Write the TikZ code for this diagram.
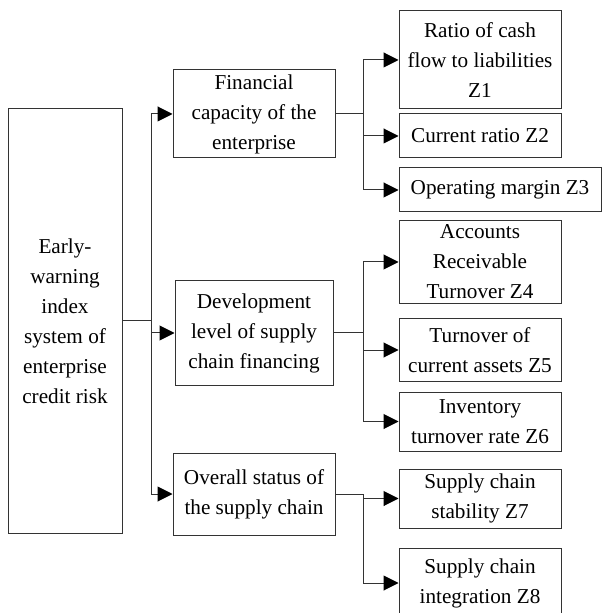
\documentclass[tikz,border=0pt]{standalone}
\usepackage{fontspec}
\setmainfont{Liberation Serif}
\usetikzlibrary{arrows.meta}

\begin{document}
\begin{tikzpicture}[x=0.5pt,y=-0.5pt,font=\fontsize{10.6}{15}\selectfont,
 e/.style={draw=black!80,line width=0.5pt,inner sep=0pt,align=center},
 mid/.style={e,minimum width=81pt}, leaf/.style={e,minimum width=81pt},
 ln/.style={draw=black!80,line width=0.5pt},
 arr/.style={ln,-{Triangle[length=7.5pt,width=7.5pt,black]}}]
\useasboundingbox (0,0) rectangle (602,613);
\node[e,minimum width=57pt,minimum height=212pt] (r) at (65,321)
 {Early-\\ warning\\ index\\ system of\\ enterprise\\ credit risk};
\node[mid,minimum height=44pt] (m1) at (254,114) {Financial\\ capacity of the\\ enterprise};
\node[mid,minimum width=79pt,minimum height=52pt] (m2) at (254,333) {Development\\ level of supply\\ chain financing};
\node[mid,minimum height=41pt] (m3) at (254,494) {Overall status of\\ the supply chain};
\node[leaf,minimum height=49pt] (l1) at (480,60) {Ratio of cash\\ flow to liabilities\\ Z1};
\node[leaf,minimum height=22pt] (l2) at (480,136) {Current ratio Z2};
\node[leaf,minimum width=101pt,minimum height=22pt] (l3) at (500,190) {Operating margin Z3};
\node[leaf,minimum height=41.5pt] (l4) at (480,262) {Accounts\\ Receivable\\ Turnover Z4};
\node[leaf,minimum height=31pt] (l5) at (480,350) {Turnover of\\ current assets Z5};
\node[leaf,minimum height=29.5pt] (l6) at (480,421.5) {Inventory\\ turnover rate Z6};
\node[leaf,minimum height=29.5pt] (l7) at (480,498.5) {Supply chain\\ stability Z7};
\node[leaf,minimum height=35pt] (l8) at (480,583) {Supply chain\\ integration Z8};
\coordinate (j0) at (151,321);
\coordinate (j1) at (363,114);
\coordinate (j2) at (363,333);
\coordinate (j3) at (363,494);
% root to the three groups
\draw[ln] (r.east) -- (j0);
\draw[arr] (j0) |- (m1);
\draw[arr] (j0) |- (m2);
\draw[arr] (j0) |- (m3);
% groups to indices
\draw[ln] (m1.east) -- (j1);
\draw[arr] (j1) |- (l1);
\draw[arr] (j1) |- (l2);
\draw[arr] (j1) |- (l3);
\draw[ln] (m2.east) -- (j2);
\draw[arr] (j2) |- (l4);
\draw[arr] (j2) |- (l5);
\draw[arr] (j2) |- (l6);
\draw[ln] (m3.east) -- (j3);
\draw[arr] (j3) |- (l7);
\draw[arr] (j3) |- (l8);
\end{tikzpicture}
\end{document}
